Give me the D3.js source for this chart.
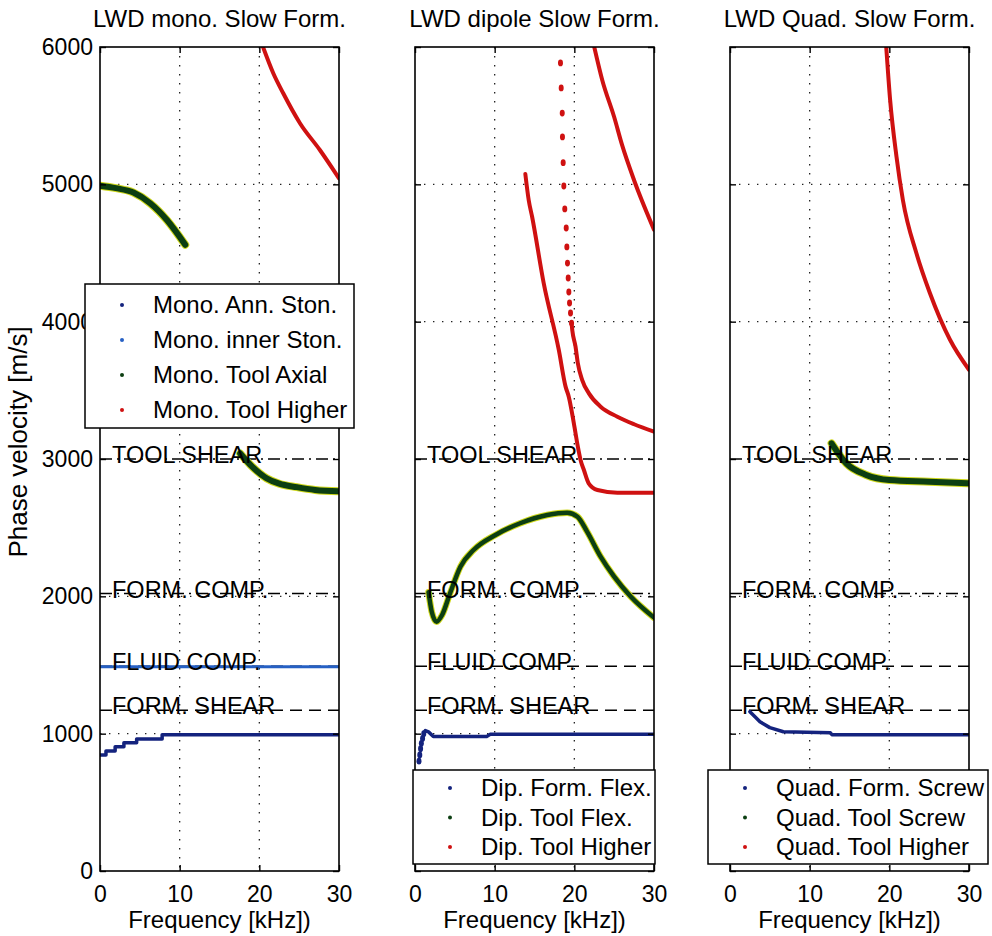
<!DOCTYPE html>
<html>
<head>
<meta charset="utf-8">
<script src="https://cdn.jsdelivr.net/npm/d3@7"></script>
<style>
  body { margin: 0; background: #fff; }
  svg { display: block; font-family: 'Liberation Sans', Arial, Helvetica, sans-serif; }
</style>
</head>
<body>
<svg></svg>
<script>
// ---- data: [frequency kHz, phase velocity m/s] ----
const titles = ["LWD mono. Slow Form.", "LWD dipole Slow Form.", "LWD Quad. Slow Form."];
const xTicks = [0, 10, 20, 30];
const yTicks = [0, 1000, 2000, 3000, 4000, 5000, 6000];

const refNames = ["TOOL SHEAR", "FORM. COMP.", "FLUID COMP.", "FORM. SHEAR"];
const refValues = [3000, 2020, 1490, 1170];

// LWD monopole
const monoLegend = ["Mono. Ann. Ston.", "Mono. inner Ston.", "Mono. Tool Axial", "Mono. Tool Higher"];
const monoAnnSton = [[0, 845], [0.75, 874], [1.9, 905], [3.0, 934], [4.6, 961], [7.8, 992], [30, 992]];
const monoInnerSton = [[0, 1488], [30, 1488]];
const monoToolAxialLow = [[0, 4990], [2, 4972], [4.2, 4940], [6.3, 4862], [8.4, 4740], [10.7, 4560]];
const monoToolAxialHigh = [[17.6, 3040], [19, 2950], [20.9, 2860], [22.5, 2820], [24.7, 2795], [27, 2775], [30, 2765]];
const monoToolHigher = [[20.4, 6010], [21.75, 5809], [23, 5663], [25.1, 5445], [27.6, 5250], [30, 5044]];

// LWD dipole
const dipLegend = ["Dip. Form. Flex.", "Dip. Tool Flex.", "Dip. Tool Higher"];
const dipFormFlexSparse = [[0.5, 800], [0.6, 845], [0.7, 890], [0.8, 930], [0.95, 965], [1.1, 1000]];
const dipFormFlex = [[1.1, 1000], [1.3, 1022], [1.7, 1013], [2.3, 980], [9.0, 980], [9.45, 995], [30, 995]];
const dipToolFlex = [[1.7, 2030], [2.1, 1888], [2.7, 1815], [3.4, 1864], [4.4, 2022], [5.7, 2216], [7.35, 2337],
  [10.1, 2447], [13.2, 2532], [16.6, 2592], [19.1, 2609], [20.4, 2580], [21.6, 2471], [23.3, 2289], [25, 2143],
  [27.1, 1997], [30, 1845]];
const dipToolHigherLow = [[13.85, 5075], [14.27, 4886], [14.7, 4764], [16.16, 4279], [18.05, 3794], [18.9, 3527],
  [19.3, 3454], [19.94, 3260], [20.44, 3090], [20.78, 2993], [21.2, 2920], [21.8, 2823], [22.9, 2774], [25.4, 2755], [30, 2755]];
const dipToolHigherDots = [[18.26, 5884], [18.35, 5702], [18.48, 5519], [18.51, 5345], [18.6, 5158], [18.68, 4988],
  [18.8, 4821], [18.98, 4682], [19.06, 4544], [19.14, 4427], [19.23, 4318], [19.31, 4216], [19.4, 4136], [19.52, 4063], [19.65, 3990]];
const dipToolHigherMid = [[19.65, 3990], [19.74, 3939], [20.15, 3818], [20.44, 3697], [20.99, 3575], [21.83, 3478],
  [23.3, 3381], [25.4, 3308], [27.5, 3253], [30, 3199]];
const dipToolHigherTop = [[22.46, 6010], [23.5, 5760], [25, 5490], [26, 5285], [27.5, 5030], [30, 4670]];

// LWD quadrupole
const quadLegend = ["Quad. Form. Screw", "Quad. Tool Screw", "Quad. Tool Higher"];
const quadFormScrew = [[2.5, 1160], [3.2, 1120], [3.76, 1087], [5, 1044], [6.7, 1014], [12.6, 1007], [12.8, 992], [30, 992]];
const quadToolScrew = [[12.75, 3114], [14.6, 2968], [17.1, 2884], [20, 2847], [25, 2835], [30, 2823]];
const quadToolHigher = [[19.6, 6010], [20.1, 5614], [20.9, 5201], [21.7, 4886], [23.4, 4498], [25.1, 4207], [27.6, 3870], [30, 3650]];

// ---- layout / style ----
const width = 992, height = 936;
const plotTop = 47, plotBottom = 871, pw = 239;
const lefts = [100, 415, 730];

const navy = "#14237e", blue = "#2660c4", green = "#0c3f12", halo = "#cfd81c", red = "#cf1111";
const refDash = ["12,5,2,5", "12,5,2,5", "12,7", "12,7"];

const panels = [
  {
    series: [
      { data: monoInnerSton, color: blue, w: 3 },
      { data: monoAnnSton, color: navy, w: 3.5, curve: d3.curveStepAfter },
      { data: monoToolAxialLow, color: green, w: 6, halo: true },
      { data: monoToolAxialHigh, color: green, w: 6, halo: true },
      { data: monoToolHigher, color: red, w: 4 }
    ],
    legend: { labels: monoLegend, colors: [navy, blue, green, red], x: 85, y: 284, w: 269, h: 144, row0: 305, step: 35 }
  },
  {
    series: [
      { data: dipFormFlexSparse, color: navy, dots: true },
      { data: dipFormFlex, color: navy, w: 3.5, curve: d3.curveLinear },
      { data: dipToolFlex, color: green, w: 4.5, halo: true },
      { data: dipToolHigherLow, color: red, w: 4 },
      { data: dipToolHigherDots, color: red, dots: true },
      { data: dipToolHigherMid, color: red, w: 4 },
      { data: dipToolHigherTop, color: red, w: 4 }
    ],
    legend: { labels: dipLegend, colors: [navy, green, red], x: 413, y: 770, w: 242, h: 94, row0: 788, step: 29.5 }
  },
  {
    series: [
      { data: quadFormScrew, color: navy, w: 3.5, curve: d3.curveLinear },
      { data: quadToolScrew, color: green, w: 6, halo: true },
      { data: quadToolHigher, color: red, w: 4 }
    ],
    legend: { labels: quadLegend, colors: [navy, green, red], x: 708, y: 770, w: 280, h: 94, row0: 788, step: 29.5 }
  }
];

const svg = d3.select("svg")
  .attr("width", width)
  .attr("height", height)
  .attr("viewBox", [0, 0, width, height]);

svg.append("rect").attr("width", width).attr("height", height).attr("fill", "#fff");

const y = d3.scaleLinear().domain([0, 6000]).range([plotBottom, plotTop]);

panels.forEach((p, i) => {
  const left = lefts[i];
  const x = d3.scaleLinear().domain([0, 30]).range([left, left + pw]);
  const g = svg.append("g");

  g.append("clipPath").attr("id", "clip" + i)
    .append("rect").attr("x", left).attr("y", plotTop).attr("width", pw).attr("height", plotBottom - plotTop);

  // dotted grid
  const grid = g.append("g").attr("stroke", "#222").attr("stroke-width", 1.3).attr("stroke-dasharray", "1.4,7.6");
  grid.selectAll(".gx").data([10, 20]).join("line")
    .attr("x1", d => x(d)).attr("x2", d => x(d)).attr("y1", plotTop).attr("y2", plotBottom);
  grid.selectAll(".gy").data([1000, 2000, 4000, 5000]).join("line")
    .attr("x1", left).attr("x2", left + pw).attr("y1", d => y(d)).attr("y2", d => y(d));

  // reference velocities
  g.append("g").selectAll("line").data(refValues).join("line")
    .attr("x1", left).attr("x2", left + pw)
    .attr("y1", d => y(d)).attr("y2", d => y(d))
    .attr("stroke", "#000").attr("stroke-width", 1.5)
    .attr("stroke-dasharray", (d, k) => refDash[k]);

  // curves
  const curves = g.append("g").attr("clip-path", `url(#clip${i})`);
  p.series.forEach(s => {
    if (s.dots) {
      curves.append("g").attr("fill", s.color)
        .selectAll("ellipse").data(s.data).join("ellipse")
        .attr("cx", d => x(d[0])).attr("cy", d => y(d[1]))
        .attr("rx", 2.5).attr("ry", 3.4);
      return;
    }
    const line = d3.line().x(d => x(d[0])).y(d => y(d[1])).curve(s.curve || d3.curveMonotoneX);
    if (s.halo) {
      curves.append("path").attr("d", line(s.data)).attr("fill", "none")
        .attr("stroke", halo).attr("stroke-width", s.w + 2).attr("stroke-linecap", "round").attr("stroke-linejoin", "round");
    }
    curves.append("path").attr("d", line(s.data)).attr("fill", "none")
      .attr("stroke", s.color).attr("stroke-width", s.w)
      .attr("stroke-linecap", "round").attr("stroke-linejoin", "round");
  });

  // reference labels
  g.append("g").selectAll("text").data(refNames).join("text")
    .attr("x", left + 12).attr("y", (d, k) => y(refValues[k]) + 4)
    .attr("font-size", 23.5).attr("fill", "#000")
    .text(d => d);

  // frame
  g.append("rect").attr("x", left).attr("y", plotTop).attr("width", pw).attr("height", plotBottom - plotTop)
    .attr("fill", "none").attr("stroke", "#000").attr("stroke-width", 1.6);

  // axes (MATLAB style inward ticks)
  const styleAxis = a => {
    a.select(".domain").remove();
    a.attr("font-family", null).attr("font-size", 23);
    a.selectAll(".tick line").attr("stroke", "#000").attr("stroke-width", 1.4);
    a.selectAll(".tick text").attr("fill", "#000");
  };
  g.append("g").attr("transform", `translate(0,${plotBottom})`)
    .call(d3.axisBottom(x).tickValues(xTicks).tickSizeInner(-6).tickSizeOuter(0).tickPadding(15))
    .call(styleAxis);
  g.append("g").attr("transform", `translate(0,${plotTop})`)
    .call(d3.axisTop(x).tickValues(xTicks).tickSizeInner(-6).tickSizeOuter(0).tickFormat(""))
    .call(styleAxis);
  g.append("g").attr("transform", `translate(${left},0)`)
    .call(d3.axisLeft(y).tickValues(yTicks).tickSizeInner(-6).tickSizeOuter(0).tickPadding(7)
      .tickFormat(i === 0 ? d3.format("d") : ""))
    .call(styleAxis);
  g.append("g").attr("transform", `translate(${left + pw},0)`)
    .call(d3.axisRight(y).tickValues(yTicks).tickSizeInner(-6).tickSizeOuter(0).tickFormat(""))
    .call(styleAxis);

  // title and x label
  g.append("text").attr("x", left + pw / 2).attr("y", 27).attr("text-anchor", "middle")
    .attr("font-size", 24).text(titles[i]);
  g.append("text").attr("x", left + pw / 2).attr("y", 928).attr("text-anchor", "middle")
    .attr("font-size", 24).text("Frequency [kHz])");

  // legend
  const L = p.legend;
  const lg = g.append("g");
  lg.append("rect").attr("x", L.x).attr("y", L.y).attr("width", L.w).attr("height", L.h)
    .attr("fill", "#fff").attr("stroke", "#000").attr("stroke-width", 1.5);
  const rows = lg.selectAll(".row").data(L.labels).join("g")
    .attr("transform", (d, k) => `translate(${L.x},${L.row0 + k * L.step})`);
  rows.append("circle").attr("cx", 37).attr("cy", 0).attr("r", 2).attr("fill", (d, k) => L.colors[k]);
  rows.append("text").attr("x", 68).attr("dy", "0.35em").attr("font-size", 24).text(d => d);
});

// y label
svg.append("text")
  .attr("transform", "translate(27,442) rotate(-90)")
  .attr("text-anchor", "middle").attr("font-size", 26)
  .text("Phase velocity [m/s]");
</script>
</body>
</html>
